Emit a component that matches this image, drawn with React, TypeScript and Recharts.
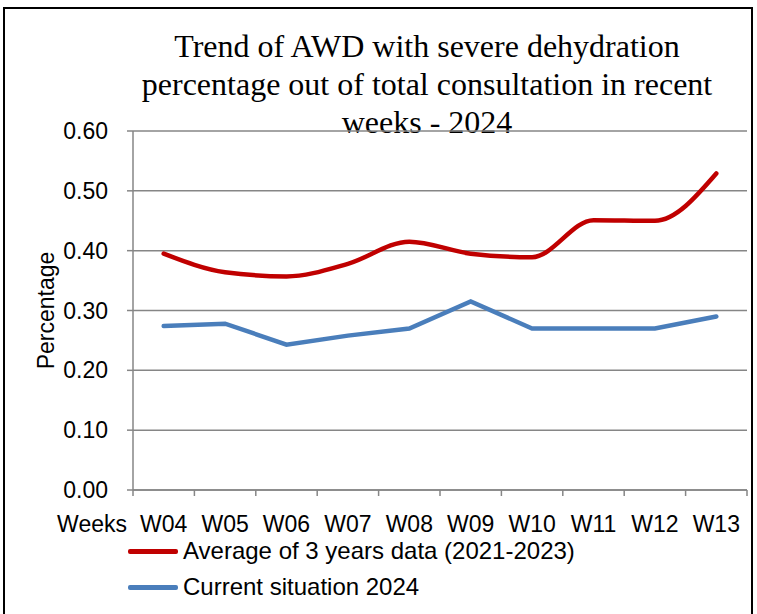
import { CartesianGrid, Line, LineChart, XAxis, YAxis, Label } from "recharts";

const weeks = ["W04", "W05", "W06", "W07", "W08", "W09", "W10", "W11", "W12", "W13"];
const avg3Years = [0.395, 0.364, 0.357, 0.378, 0.415, 0.395, 0.389, 0.451, 0.45, 0.529];
const current2024 = [0.274, 0.278, 0.243, 0.258, 0.27, 0.315, 0.27, 0.27, 0.27, 0.29];
const yTicks = [0, 0.1, 0.2, 0.3, 0.4, 0.5, 0.6];
const titleLines = [
  "Trend of AWD with severe dehydration",
  "percentage out of total consultation in recent",
  "weeks - 2024",
];
const xAxisName = "Weeks";
const yAxisName = "Percentage";

const series = [
  { key: "avg", name: "Average of 3 years data (2021-2023)", color: "#C00000", type: "monotone" as const },
  { key: "cur", name: "Current situation 2024", color: "#4A7EBB", type: "linear" as const },
];

const data = weeks.map((w, i) => ({ week: w, avg: avg3Years[i], cur: current2024[i] }));

const W = 757;
const H = 614;
const PLOT_LEFT = 133;
const PLOT_RIGHT = 10;
const AXIS_GRAY = "#868686";
const SANS = "'Liberation Sans', Arial, sans-serif";
const FS = 23;

function WeekTick(props: any) {
  const { x, y, payload, index } = props;
  const half = (W - PLOT_LEFT - PLOT_RIGHT) / weeks.length / 2;
  return (
    <g>
      <line x1={x - half} x2={x - half} y1={y} y2={y + 6} stroke={AXIS_GRAY} strokeWidth={1.5} />
      {index === weeks.length - 1 && (
        <line x1={x + half} x2={x + half} y1={y} y2={y + 6} stroke={AXIS_GRAY} strokeWidth={1.5} />
      )}
      {index === 0 && (
        <text x={x - half - 6} y={y + 42} textAnchor="end" fontSize={FS} fill="#000" fontFamily={SANS}>
          {xAxisName}
        </text>
      )}
      <text x={x} y={y + 42} textAnchor="middle" fontSize={FS} fill="#000" fontFamily={SANS}>
        {payload.value}
      </text>
    </g>
  );
}

export default function App() {
  return (
    <div style={{ position: "absolute", left: 0, top: 0, width: W, height: H, overflow: "hidden", background: "#fff" }}>
      <div
        style={{
          position: "absolute",
          left: 3,
          top: 7,
          width: 750,
          height: 700,
          border: "2px solid #000",
          boxSizing: "border-box",
        }}
      />
      <div
        style={{
          position: "absolute",
          left: 0,
          width: 854,
          top: 27,
          textAlign: "center",
          fontFamily: "'Liberation Serif', 'Times New Roman', serif",
          fontSize: 32,
          lineHeight: "38px",
          color: "#000",
        }}
      >
        {titleLines.map((t) => (
          <div key={t}>{t}</div>
        ))}
      </div>
      <div style={{ position: "absolute", left: 0, top: 0 }}>
        <LineChart width={W} height={H} data={data} margin={{ top: 131, right: PLOT_RIGHT, bottom: 84, left: 0 }}>
          <CartesianGrid vertical={false} stroke={AXIS_GRAY} strokeWidth={1.5} />
          <XAxis
            dataKey="week"
            scale="band"
            height={40}
            tickLine={false}
            tickSize={0}
            tickMargin={0}
            axisLine={{ stroke: AXIS_GRAY, strokeWidth: 1.5 }}
            tick={<WeekTick />}
            interval={0}
          />
          <YAxis
            width={PLOT_LEFT}
            domain={[0, 0.6]}
            ticks={yTicks}
            tickFormatter={(v: number) => v.toFixed(2)}
            tickSize={6}
            tickMargin={19}
            tickLine={{ stroke: AXIS_GRAY, strokeWidth: 1.5 }}
            axisLine={{ stroke: AXIS_GRAY, strokeWidth: 1.5 }}
            tick={{ fontSize: FS, fill: "#000", fontFamily: SANS }}
          >
            <Label
              value={yAxisName}
              angle={-90}
              position="center"
              dx={-21}
              style={{ fontSize: FS, fill: "#000", fontFamily: SANS }}
            />
          </YAxis>
          {series.map((s) => (
            <Line
              key={s.key}
              type={s.type}
              dataKey={s.key}
              name={s.name}
              stroke={s.color}
              strokeWidth={4.5}
              strokeLinecap="round"
              dot={false}
              activeDot={false}
              isAnimationActive={false}
            />
          ))}
        </LineChart>
      </div>
      <div style={{ position: "absolute", left: 128, top: 533, fontFamily: SANS, fontSize: 24, color: "#000" }}>
        {series.map((s) => (
          <div key={s.key} style={{ display: "flex", alignItems: "center", height: 36 }}>
            <span style={{ display: "inline-block", width: 50, height: 5, background: s.color, borderRadius: 2 }} />
            <span style={{ marginLeft: 5 }}>{s.name}</span>
          </div>
        ))}
      </div>
    </div>
  );
}
